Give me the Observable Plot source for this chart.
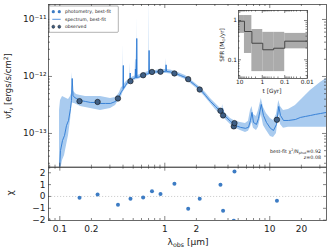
<!DOCTYPE html>
<html><head><meta charset="utf-8">
<script src="https://cdn.jsdelivr.net/npm/d3@7"></script>
<script src="https://cdn.jsdelivr.net/npm/@observablehq/plot@0.6"></script>
<style>
body{margin:0;background:#fff;}
#chart{position:relative;width:331px;height:252px;overflow:hidden;font-family:"DejaVu Sans",sans-serif;background:#fff}
#chart > svg{position:absolute;overflow:visible}
</style></head><body><div id="chart"></div>
<script>
// ---- data ----
// best-fit spectrum (observed wavelength, micron) and flux in units of 1e-13 erg/s/cm^2
const specWave = [0.0993,0.1015,0.1061,0.1109,0.1158,0.1210,0.1264,0.1292,0.1312,0.1336,0.1380,0.1442,0.1575,0.1757,0.1960,0.2188,0.2440,0.2723,0.3040,0.3392,0.3543,0.3703,0.3869,0.3998,0.4025,0.4050,0.4224,0.4413,0.4650,0.4687,0.4713,0.5032,0.5220,0.5250,0.5300,0.5356,0.5380,0.5408,0.5440,0.5495,0.5868,0.6549,0.7040,0.7088,0.7140,0.7307,0.8155,0.9100,1.0155,1.0200,1.0295,1.0400,1.133,1.264,1.411,1.574,1.757,1.961,2.188,2.442,2.724,3.040,3.393,3.500,3.560,3.620,3.786,4.224,4.713,5.260,5.869,6.268,6.550,6.769,6.995,7.469,7.805,8.299,8.710,9.302,10.15,10.85,11.58,12.18,12.65,13.51,15.07,17.57,19.61,21.88,24.42,27.24,30.40,34.67];
const specFlux = [0.224,0.503,0.754,0.923,1.38,1.69,2.75,3.79,9.22,4.64,4.28,4.11,3.79,3.64,3.50,3.50,3.36,3.36,3.36,3.64,4.11,4.64,5.46,5.91,15.6,6.16,6.95,7.85,8.34,11.5,8.51,9.22,9.41,13.5,9.5,20.0,9.5,46.4,9.6,9.60,10.0,10.84,11.29,28.6,11.29,11.75,11.99,12.24,12.24,12.24,16.0,12.24,11.99,11.29,10.41,9.60,8.17,6.95,5.91,4.64,3.64,2.98,2.43,2.34,2.75,2.24,1.99,1.63,1.38,1.28,1.23,1.28,1.69,2.34,1.56,1.44,1.83,3.23,2.07,1.56,1.23,1.13,1.44,2.98,2.07,1.69,1.69,1.76,1.91,1.99,2.07,2.16,2.24,2.34];
const specHi = [2.53,3.79,4.46,4.28,4.11,3.95,4.46,5.03,11.75,5.68,5.24,4.83,4.64,4.46,4.46,4.46,4.46,4.28,4.11,4.28,4.64,5.24,6.41,6.68,37.9,6.95,7.85,8.51,9.0,17.6,9.22,10.0,10.2,19.1,10.3,35.0,10.3,117.6,10.4,10.41,10.84,11.75,12.2,263.7,12.2,12.74,12.74,13.27,13.27,13.27,20.7,13.27,13.0,12.24,11.29,10.41,8.86,7.54,6.41,5.24,4.11,3.36,2.75,2.65,3.23,2.55,2.24,1.83,1.63,1.56,1.50,1.63,2.53,2.98,2.16,1.99,2.53,4.11,2.86,2.24,1.83,1.69,2.16,3.79,2.98,2.53,2.64,3.10,3.79,4.64,5.68,6.68,7.85,9.22];
const specLo = [0.224,0.224,0.336,0.411,0.616,0.923,1.69,2.53,3.79,3.36,3.36,3.23,2.98,2.86,2.75,2.64,2.53,2.64,2.75,3.10,3.50,3.95,4.46,5.24,5.24,5.46,6.16,6.95,7.6,7.7,7.85,8.51,8.7,8.7,8.8,8.8,8.8,8.8,8.86,8.86,9.22,10.0,10.4,10.4,10.4,10.84,11.06,11.29,11.29,11.29,11.29,11.29,11.06,10.41,9.60,8.86,7.54,6.41,5.35,4.28,3.36,2.64,2.16,2.07,2.07,2.0,1.76,1.44,1.23,1.13,1.04,1.09,1.28,1.56,1.23,1.13,1.28,2.16,1.38,1.13,0.886,0.851,1.00,2.16,1.44,1.23,1.28,1.28,1.28,1.28,1.28,1.28,1.28,1.28];

// photometry: observed wavelength (micron), observed flux (erg/s/cm^2), residual chi
const photWave = [0.154,0.229,0.358,0.471,0.622,0.755,0.910,1.235,1.67,2.15,3.39,3.59,4.54,4.61,11.7];
const photFlux = [3.69e-13,3.57e-13,4.11e-13,8.27e-13,1.05e-12,1.20e-12,1.21e-12,1.13e-12,8.97e-13,5.90e-13,2.50e-13,2.07e-13,1.33e-13,1.52e-13,1.74e-13];
const photChi  = [-0.11,0.17,-0.70,-0.19,-0.08,0.45,0.21,1.07,-1.04,-0.19,0.99,-1.21,-2.05,2.11,-0.36];

// star-formation history (inset): lookback-time bin edges (Gyr), SFR median and range (Msun/yr)
const sfrEdges = [11.4,6.2,2.9,0.95,0.31,0.1,0.001];
const sfrMed = [0.96,0.525,0.264,0.18,0.197,0.298];
const sfrHi  = [1.34,1.34,0.59,0.50,0.50,0.47];
const sfrLo  = [0.47,0.145,0.05,0.05,0.05,0.19];

// tick labels
const mainYTicks = [1e-11,1e-12,1e-13];
const residXTicks = [0.1,0.2,0.5,1,2,5,10,20];
const residYTicks = [-2,-1,0,1,2];
const insetXTicks = [10,1,0.1,0.01];
const insetYTicks = [1,0.1];

// ---- build tables ----
const spec = specWave.map((w,i)=>({w, f:specFlux[i]*1e-13, hi:specHi[i]*1e-13, lo:specLo[i]*1e-13}));
const phot = photWave.map((w,i)=>({w, f:photFlux[i], chi:photChi[i]}));
const sfrBins = sfrMed.map((m,i)=>({t1:sfrEdges[i], t2:sfrEdges[i+1], med:m, hi:sfrHi[i], lo:sfrLo[i]}));
const sfrStep = sfrBins.flatMap(b=>[{t:b.t1,s:b.med},{t:b.t2,s:b.med}]);

const xDomain = [0.078, 34.7];
const yDomain = [2.56e-14, 1.83e-11];
const chiDomain = [-2.03, 2.47];

function minorLog(lo, hi){
  const out=[];
  for(let e=Math.floor(Math.log10(lo))-1;e<=Math.ceil(Math.log10(hi));e++)
    for(let k=1;k<=9;k++){const v=k*Math.pow(10,e); if(v>=lo&&v<=hi) out.push(v);}
  return out;
}
const isDecade = v => Math.abs(Math.log10(v)-Math.round(Math.log10(v)))<1e-9;

function boxTicks(xs, ys, innerW, innerH){
  const st = {stroke:"#333", strokeWidth:0.6};
  const m=[];
  for(const [vals,L] of xs){
    m.push(Plot.tickX(vals,{x:d=>d, insetTop:innerH-L, ...st}));
    m.push(Plot.tickX(vals,{x:d=>d, insetBottom:innerH-L, ...st}));
  }
  for(const [vals,L] of ys){
    m.push(Plot.tickY(vals,{y:d=>d, insetRight:innerW-L, ...st}));
    m.push(Plot.tickY(vals,{y:d=>d, insetLeft:innerW-L, ...st}));
  }
  return m;
}
const supMap = {"-":"⁻","0":"⁰","1":"¹","2":"²","3":"³","4":"⁴","5":"⁵","6":"⁶","7":"⁷","8":"⁸","9":"⁹"};
const supFmt = d => "10" + String(Math.round(Math.log10(d))).split("").map(c=>supMap[c]).join("");
const intFmt = d => d<0 ? "\u2212"+(-d) : String(d);

const xMinor = minorLog(xDomain[0], xDomain[1]).filter(v=>!isDecade(v));
const xMajor = minorLog(xDomain[0], xDomain[1]).filter(isDecade);
const yMinor = minorLog(yDomain[0], yDomain[1]).filter(v=>!isDecade(v));
const yMajor = minorLog(yDomain[0], yDomain[1]).filter(isDecade);

const baseStyle = {fontFamily:"DejaVu Sans", fontSize:"9px", background:"transparent", color:"#222", overflow:"visible"};

// ---- main panel ----
const W=331, mL=48, mR=5;
const mainH=167, mainTop=4, mainBot=0.3;
const main = Plot.plot({
  width:W, height:mainH, marginLeft:mL, marginRight:mR, marginTop:mainTop, marginBottom:mainBot,
  style: baseStyle,
  x:{type:"log", domain:xDomain, axis:null, label:null},
  y:{type:"log", domain:yDomain, axis:null, label:null},
  marks:[
    Plot.areaY(spec,{x:"w", y1:"lo", y2:"hi", fill:"#a9cbef", clip:true}),
    Plot.lineY(spec,{x:"w", y:"f", stroke:"#2b79d4", strokeWidth:0.9, clip:true}),
    Plot.dot(phot,{x:"w", y:"f", r:2.7, fill:"#3f5f85", stroke:"#111", strokeWidth:0.6}),
    Plot.axisY({ticks:mainYTicks, tickSize:0, tickPadding:2, tickFormat:supFmt, label:null}),
    Plot.frame({stroke:"#444", strokeWidth:0.8}),
    ...boxTicks([[xMajor,4],[xMinor,2]],[[yMajor,4],[yMinor,2]], W-mL-mR, mainH-mainTop-mainBot)
  ]
});
main.style.left="0px"; main.style.top="0px";

// ---- residual panel ----
const resTopPos=160, resH=92, resMT=6.7, resMB=32;
const resid = Plot.plot({
  width:W, height:resH, marginLeft:mL, marginRight:mR, marginTop:resMT, marginBottom:resMB,
  style: baseStyle,
  x:{type:"log", domain:xDomain, axis:null, label:null},
  y:{domain:chiDomain, axis:null, label:null},
  marks:[
    Plot.ruleY([0],{stroke:"#c4c4c4", strokeWidth:0.8, strokeDasharray:"1.2,1.8"}),
    Plot.dot(phot,{x:"w", y:"chi", r:2, fill:"#3d7cc4", clip:true}),
    Plot.axisX({ticks:residXTicks, tickSize:0, tickPadding:5, tickFormat:d=>String(d), label:null}),
    Plot.axisY({ticks:residYTicks, tickSize:0, tickPadding:3, tickFormat:intFmt, label:null}),
    Plot.frame({stroke:"#444", strokeWidth:0.8}),
    ...boxTicks([[xMajor,4],[xMinor,2]],[[residYTicks,3]], W-mL-mR, resH-resMT-resMB)
  ]
});
resid.style.left="0px"; resid.style.top=resTopPos+"px";

// ---- inset SFH ----
const inLeft=215, inTop=6, inW=94, inH=92, inML=23, inMR=2, inMT=4, inMB=20;
const tDomain=[11.4,0.0097];
const tMinor = minorLog(0.0097,11.4).filter(v=>!isDecade(v));
const sMinor = minorLog(0.0334,1.8).filter(v=>!isDecade(v));
const inset = Plot.plot({
  width:inW, height:inH, marginLeft:inML, marginRight:inMR, marginTop:inMT, marginBottom:inMB,
  style:{...baseStyle, fontSize:"5.8px"},
  x:{type:"log", domain:tDomain, axis:null, label:null},
  y:{type:"log", domain:[0.0334,1.8], axis:null, label:null},
  marks:[
    Plot.frame({fill:"#fff"}),
    Plot.rect(sfrBins,{x1:"t1", x2:"t2", y1:"lo", y2:"hi", fill:"#ababab", clip:true}),
    Plot.line(sfrStep,{x:"t", y:"s", stroke:"#3a3a3a", strokeWidth:0.9, clip:true}),
    Plot.axisX({ticks:insetXTicks, tickSize:0, tickPadding:1.5, tickFormat:d=>String(d), label:null}),
    Plot.axisY({ticks:insetYTicks, tickSize:0, tickPadding:1.5, tickFormat:d=>String(d), label:null}),
    Plot.frame({stroke:"#444", strokeWidth:0.8}),
    ...boxTicks([[insetXTicks,3],[tMinor,1.5]],[[insetYTicks,3],[sMinor,1.5]], inW-inML-inMR, inH-inMT-inMB)
  ]
});
inset.style.left=inLeft+"px"; inset.style.top=inTop+"px";

const chart = document.getElementById("chart");
chart.append(main, resid, inset);

// ---- overlay: titles, legend, annotation ----
const ov = d3.select(chart).append("svg").attr("width",W).attr("height",252)
  .style("left","0px").style("top","0px").style("font-family","DejaVu Sans").attr("fill","#222");

function rich(g, parts, size){
  const t = g.append("text").attr("font-size",size);
  for(const p of parts){
    const ts = t.append("tspan").text(p.t);
    if(p.sub){ ts.attr("font-size",size*0.7).attr("dy",size*0.25); }
    else if(p.sup){ ts.attr("font-size",size*0.7).attr("dy",-size*0.4); }
    if(p.back) ts.attr("dy", p.back);
  }
  return t;
}
// y label main
rich(ov.append("g").attr("transform","translate(11,86) rotate(-90)"),
  [{t:"νf"},{t:"ν",sub:true},{t:" [ergs/s/cm",back:-2.1},{t:"2",sup:true},{t:"]",back:3.4}],8.5)
  .attr("text-anchor","middle");
// chi label
ov.append("g").attr("transform","translate(13,193) rotate(-90)").append("text")
  .attr("font-size",9).attr("text-anchor","middle").text("χ");
// x label
rich(ov.append("g").attr("transform","translate(188,244.5)"),
  [{t:"λ"},{t:"obs",sub:true},{t:" [μm]",back:-2.25}],9).attr("text-anchor","middle");
// inset labels
rich(ov.append("g").attr("transform","translate(224,45) rotate(-90)"),
  [{t:"SFR [M"},{t:"⊙",sub:true},{t:"/yr]",back:-1.5}],5.8).attr("text-anchor","middle");
ov.append("text").attr("x",272).attr("y",93).attr("font-size",5.8).attr("text-anchor","middle").text("t [Gyr]");

// annotation
rich(ov.append("g").attr("transform","translate(321,153)"),
  [{t:"best-fit χ"},{t:"2",sup:true},{t:"/N",back:1.9},{t:"phot",sub:true},{t:"=0.92",back:-1.2}],4.8)
  .attr("text-anchor","end");
ov.append("text").attr("x",321).attr("y",158.5).attr("font-size",4.8).attr("text-anchor","end").text("z=0.08");

// legend
const lg = ov.append("g");
lg.append("rect").attr("x",49.3).attr("y",6).attr("width",69).attr("height",26.3).attr("rx",1)
  .attr("fill","#fff").attr("stroke","#666").attr("stroke-width",0.5);
[53.3,59.3].forEach(x=>lg.append("circle").attr("cx",x).attr("cy",11.7).attr("r",1.6).attr("fill","#3d7cc4"));
lg.append("line").attr("x1",52.3).attr("x2",60.7).attr("y1",19.3).attr("y2",19.3).attr("stroke","#2b79d4").attr("stroke-width",0.8);
[53.3,59.3].forEach(x=>{
  lg.append("line").attr("x1",x).attr("x2",x).attr("y1",24.8).attr("y2",28.6).attr("stroke","#222").attr("stroke-width",0.4);
  lg.append("circle").attr("cx",x).attr("cy",26.7).attr("r",1.5).attr("fill","#3f5f85").attr("stroke","#111").attr("stroke-width",0.4);
});
[["photometry, best-fit",11.7],["spectrum, best-fit",19.3],["observed",26.7]].forEach(([s,y])=>
  lg.append("text").attr("x",65).attr("y",y).attr("dy","0.35em").attr("font-size",4.6).text(s));
</script>
</body></html>
